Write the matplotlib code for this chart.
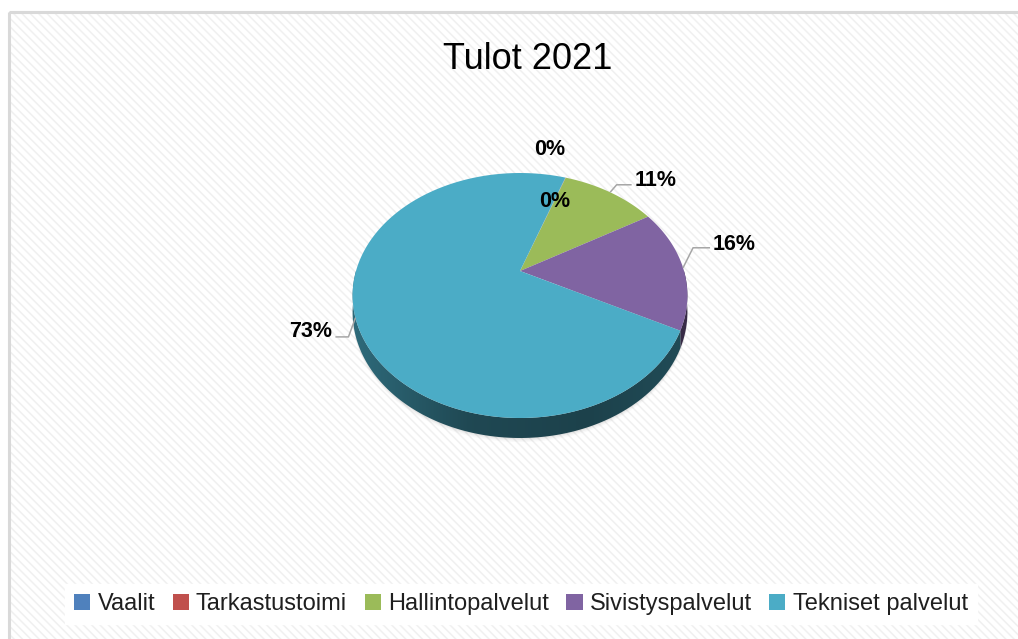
#!/usr/bin/env python3
"""Tulot 2021 - Excel style 3D pie, redrawn with matplotlib."""

import numpy as np
import matplotlib
matplotlib.use("Agg")
import matplotlib.pyplot as plt
import matplotlib.patches as mpatches

W, H = 1018, 639

title = "Tulot 2021"
categories = ["Vaalit", "Tarkastustoimi", "Hallintopalvelut",
              "Sivistyspalvelut", "Tekniset palvelut"]
values = [0.02, 0.03, 11.1, 16.1, 72.6]
colors = ["#4f81bd", "#c0504d", "#9bbb59", "#8064a2", "#4bacc6"]

# perspective view of the pie, in pixels (y grows downward)
CX, CY = 520, 271
SX, SY = 164.0, 117.6
K = 0.2          # perspective strength
DEPTH = 16.0     # pie thickness

plt.rcParams["hatch.linewidth"] = 1.1
SANS = ["Liberation Sans", "DejaVu Sans"]
LABEL_FONT = dict(family=SANS, fontsize=15.5, fontweight="bold", color="#000000")


def proj(x, y, z=0.0):
    w = 1 + K * y
    return CX + SX * x / w, CY - (SY * y + DEPTH * z) / w


def arc(t0, t1, z=0.0, r=1.0, n=200):
    t = np.radians(np.linspace(t0, t1, n))
    return np.column_stack(proj(r * np.cos(t), r * np.sin(t), z))


fig = plt.figure(figsize=(W / 100, H / 100), dpi=100)
fig.patch.set_facecolor("white")
ax = fig.add_axes([0, 0, 1, 1])

wedges, _ = ax.pie(values, startangle=70.8, counterclock=False)
angles = [(w.theta1, w.theta2) for w in wedges]
for w in wedges:
    w.remove()

ax.set_aspect("auto")
ax.axis("off")

# chart area: light diagonal stripes and grey border
ax.add_patch(mpatches.Rectangle((9.5, 12), 2000, 2000, facecolor="white",
                                edgecolor="#f0f0f0", hatch="\\\\\\\\", lw=0, zorder=0))
ax.add_patch(mpatches.Rectangle((9.5, 12), 2000, 2000, facecolor="none",
                                edgecolor="#d9d9d9", lw=2.2, zorder=0.5))

# soft shadow under the pie
for off, a in [(4, 0.04), (2.5, 0.06), (1.2, 0.08)]:
    pts = arc(180, 360, z=-1)
    pts[:, 1] += off
    ax.add_patch(mpatches.Polygon(pts, closed=True, facecolor="#707070",
                                  edgecolor="none", alpha=a, zorder=1))

# side walls (front half only), shaded left -> right
x0, x1 = CX - SX * 1.03, CX + SX * 1.03
xs = np.linspace(0, 1, 256)
shade = np.interp(xs, [0, 0.35, 0.7, 1.0], [0.62, 0.42, 0.38, 0.44])
for (t1, t2), c in zip(angles, colors):
    t = np.linspace(t1, t2, 600)
    front = np.sin(np.radians(t)) < 0.01
    if not front.any():
        continue
    ts = t[front]
    top = arc(ts[0], ts[-1], z=0)
    bot = arc(ts[-1], ts[0], z=-1)
    poly = mpatches.Polygon(np.vstack([top, bot]), closed=True,
                            facecolor="none", edgecolor="none", zorder=2)
    ax.add_patch(poly)
    rgb = np.array(matplotlib.colors.to_rgb(c))
    img = shade[None, :, None] * rgb[None, None, :]
    im = ax.imshow(img, extent=(x0, x1, CY + SY * 1.6, CY - SY * 0.4),
                   aspect="auto", interpolation="bilinear", zorder=2)
    im.set_clip_path(poly)

ax.set_xlim(0, W)
ax.set_ylim(H, 0)

# top faces
for (t1, t2), c in zip(angles, colors):
    pts = np.vstack([[proj(0, 0)], arc(t1, t2)])
    ax.add_patch(mpatches.Polygon(pts, closed=True, facecolor=c,
                                  edgecolor="none", zorder=3))

# data labels
total = sum(values)
label_layout = [
    dict(dx=-16, dy=-28),
    dict(dx=-11, dy=24),
    dict(elbow=(6.5, -7.5), run=15, ha="left", ty=1),
    dict(elbow=(10, -20), run=17, ha="left", ty=2),
    dict(elbow=(-7, 19), run=-13, ha="right", ty=0),
]
for v, (t1, t2), lay in zip(values, angles, label_layout):
    txt = f"{round(v / total * 100)}%"
    tm = np.radians((t1 + t2) / 2)
    ex, ey = proj(np.cos(tm), np.sin(tm))
    if "elbow" in lay:
        bx, by = ex + lay["elbow"][0], ey + lay["elbow"][1]
        cx = bx + lay["run"]
        ax.plot([ex, bx, cx], [ey, by, by], color="#a6a6a6", lw=1.1,
                zorder=4, solid_capstyle="butt")
        gap = 3 if lay["run"] > 0 else -3
        ax.text(cx + gap, by + lay["ty"], txt, ha=lay["ha"], va="baseline",
                zorder=5, **LABEL_FONT)
    else:
        ax.text(ex + lay["dx"], ey + lay["dy"], txt, ha="center",
                va="center", zorder=5, **LABEL_FONT)

ax.text(528, 69, title, ha="center", va="baseline", fontsize=26,
        family=SANS, color="#000000")

handles = [mpatches.Patch(facecolor=c, edgecolor="none") for c in colors]
leg = fig.legend(handles, categories, loc="center",
                 bbox_to_anchor=(521 / W, 1 - 604 / H), ncol=5,
                 prop=dict(family=SANS, size=17),
                 frameon=True, fancybox=False, facecolor="white",
                 edgecolor="white", framealpha=1,
                 handlelength=0.68, handleheight=0.68, handletextpad=0.3,
                 columnspacing=0.75, borderpad=0.4, borderaxespad=0)
for t in leg.get_texts():
    t.set_color("#1f1f1f")

fig.savefig("out.png", dpi=100)
